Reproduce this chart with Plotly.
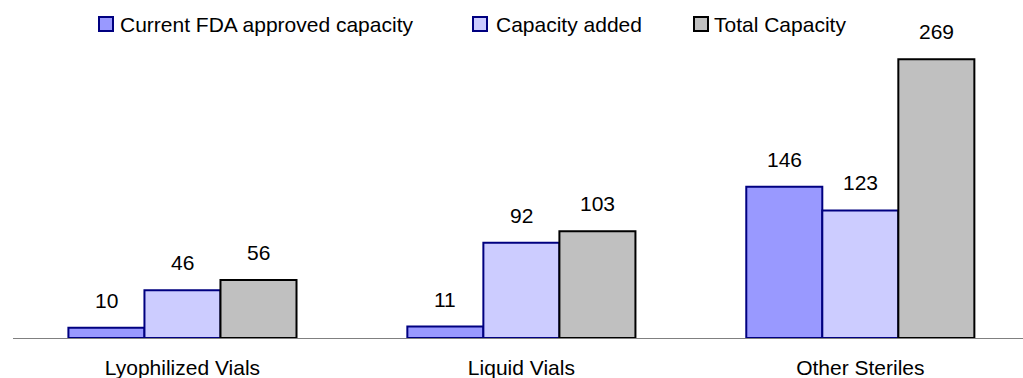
import plotly.graph_objects as go

# Capacity by product category
categories = ["Lyophilized Vials", "Liquid Vials", "Other Steriles"]
series_names = ["Current FDA approved capacity", "Capacity added", "Total Capacity"]
current_fda = [10, 11, 146]
capacity_added = [46, 92, 123]
total_capacity = [56, 103, 269]
series_values = [current_fda, capacity_added, total_capacity]

fill_colors = ["#9999FF", "#CCCCFF", "#C0C0C0"]
line_colors = ["#000080", "#000080", "#000000"]

FONT = "Liberation Sans, Arial, sans-serif"
FONT_SIZE = 21

W, H = 1023, 378
M_L, M_R, M_T, M_B = 13, 0, 27, 40
PLOT_W = W - M_L - M_R
PLOT_H = H - M_T - M_B
X_RANGE = [-0.5, 2.48]
Y_RANGE = [0, 300]
BARGAP = 0.327

fig = go.Figure()
for name, vals, fc, lc in zip(series_names, series_values, fill_colors, line_colors):
    fig.add_trace(go.Bar(
        name=name, x=categories, y=vals,
        marker=dict(color=fc, line=dict(color=lc, width=2)),
        showlegend=False, hoverinfo="x+y+name",
    ))

# pixel width of one bar inside a group
cat_px = PLOT_W / (X_RANGE[1] - X_RANGE[0])
bar_px = cat_px * (1 - BARGAP) / len(series_names)

annotations = []
for i, vals in enumerate(series_values):
    offset = (i - (len(series_names) - 1) / 2) * bar_px
    for cat, v in zip(categories, vals):
        annotations.append(dict(
            x=cat, y=v, xref="x", yref="y", text=str(v), showarrow=False,
            xanchor="center", yanchor="bottom", xshift=offset, yshift=14,
            font=dict(family=FONT, size=FONT_SIZE, color="#000000"),
        ))

# legend row drawn along the top
def px_to_paper_x(px):
    return (px - M_L) / PLOT_W

def px_to_paper_y(py):
    return (H - M_B - py) / PLOT_H

legend_square_x = [99, 473, 694]
legend_text_x = [119, 495, 713]
legend_y = 24
sq = 14
shapes = []
for i, name in enumerate(series_names):
    x0 = legend_square_x[i]
    shapes.append(dict(
        type="rect", xref="paper", yref="paper",
        x0=px_to_paper_x(x0), x1=px_to_paper_x(x0 + sq),
        y0=px_to_paper_y(legend_y + sq / 2), y1=px_to_paper_y(legend_y - sq / 2),
        fillcolor=fill_colors[i], line=dict(color=line_colors[i], width=2),
    ))
    annotations.append(dict(
        x=px_to_paper_x(legend_text_x[i]), y=px_to_paper_y(legend_y),
        xref="paper", yref="paper", text=name, showarrow=False,
        xanchor="left", yanchor="middle", borderpad=0,
        font=dict(family=FONT, size=FONT_SIZE, color="#000000"),
    ))

fig.update_layout(
    width=W, height=H,
    margin=dict(l=M_L, r=M_R, t=M_T, b=M_B, pad=0),
    paper_bgcolor="#FFFFFF", plot_bgcolor="#FFFFFF",
    barmode="group", bargap=BARGAP, bargroupgap=0,
    showlegend=False,
    font=dict(family=FONT, size=FONT_SIZE, color="#000000"),
    annotations=annotations, shapes=shapes,
    xaxis=dict(
        range=X_RANGE, showline=True, linecolor="#808080", linewidth=1,
        showgrid=False, zeroline=False, ticks="", ticklabelstandoff=11,
        automargin=False,
        tickfont=dict(family=FONT, size=FONT_SIZE, color="#000000"),
    ),
    yaxis=dict(
        range=Y_RANGE, visible=False, showgrid=False, zeroline=False,
        automargin=False,
    ),
)

fig.write_html("out.html")
